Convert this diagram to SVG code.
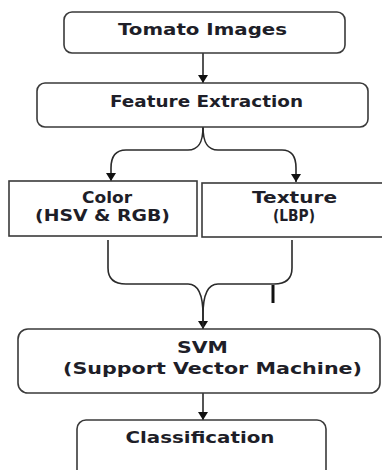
<svg xmlns="http://www.w3.org/2000/svg" width="382" height="470" viewBox="0 0 382 470">
<style>
.box{fill:#fff;stroke:#3a3a3a;stroke-width:1.6}
.t{font-family:"DejaVu Sans","Open Sans",sans-serif;font-weight:700;font-size:15px;fill:#1e1e28;text-anchor:middle}
.c{fill:none;stroke:#2a2a2a;stroke-width:1.6}
</style>
<defs>
<marker id="ah" viewBox="0 0 8 10" markerWidth="8" markerHeight="10" refX="8" refY="5" orient="auto" markerUnits="userSpaceOnUse">
<path d="M0,0 L8,5 L0,10 z" fill="#111"/>
</marker>
</defs>
<rect width="382" height="470" fill="#fff"/>
<g id="connectors">
<path class="c" d="M203,53 L203,83" marker-end="url(#ah)"/>
<path class="c" d="M203,127 C203,142 199,150 188,150 L126,150 C116,150 111,156 111,168 L111,181" marker-end="url(#ah)"/>
<path class="c" d="M203,127 C203,142 207,150 218,150 L282,150 C292,150 296,156 296,168 L296,182" marker-end="url(#ah)"/>
<path class="c" d="M108,240 L108,268 C108,279 114,284 126,284 L188,284 C198,284 203,295 203,315 L203,329" marker-end="url(#ah)"/>
<path class="c" d="M292,240 L292,268 C292,279 286,284 274,284 L218,284 C208,284 203,295 203,315 L203,329"/>
<line x1="273" y1="285" x2="273" y2="303" stroke="#111" stroke-width="3"/>
<path class="c" d="M203,393 L203,420" marker-end="url(#ah)"/>
</g>
<g id="tomato">
<rect class="box" x="64" y="12" width="281" height="41" rx="8"/>
<g transform="translate(202.5,0) scale(1.3,1)"><text class="t" x="0" y="35" textLength="130" lengthAdjust="spacingAndGlyphs">Tomato Images</text></g>
</g>
<g id="feature">
<rect class="box" x="37" y="83" width="331" height="44" rx="8"/>
<g transform="translate(206.5,0) scale(1.3,1)"><text class="t" x="0" y="107" textLength="148.5" lengthAdjust="spacingAndGlyphs">Feature Extraction</text></g>
</g>
<g id="color">
<rect class="box" x="9" y="181" width="188" height="55"/>
<g transform="translate(107,0) scale(1.3,1)"><text class="t" x="0" y="203" textLength="38.5" lengthAdjust="spacingAndGlyphs">Color</text></g>
<g transform="translate(102.5,0) scale(1.3,1)"><text class="t" x="0" y="221" textLength="103.8" lengthAdjust="spacingAndGlyphs">(HSV &amp; RGB)</text></g>
</g>
<g id="texture">
<rect class="box" x="202" y="183" width="190" height="54"/>
<g transform="translate(294.5,0) scale(1.3,1)"><text class="t" x="0" y="203" textLength="65.4" lengthAdjust="spacingAndGlyphs">Texture</text></g>
<g transform="translate(294,0) scale(1.3,1)"><text class="t" x="0" y="221" textLength="32.3" lengthAdjust="spacingAndGlyphs">(LBP)</text></g>
</g>
<g id="svm">
<rect class="box" x="18" y="329" width="362" height="64" rx="10"/>
<g transform="translate(202.5,0) scale(1.3,1)"><text class="t" x="0" y="353" textLength="39.2" lengthAdjust="spacingAndGlyphs">SVM</text></g>
<g transform="translate(212.5,0) scale(1.3,1)"><text class="t" x="0" y="374" textLength="230" lengthAdjust="spacingAndGlyphs">(Support Vector Machine)</text></g>
</g>
<g id="classification">
<rect class="box" x="77" y="420" width="249" height="60" rx="9"/>
<g transform="translate(200,0) scale(1.3,1)"><text class="t" x="0" y="443" textLength="114.6" lengthAdjust="spacingAndGlyphs">Classification</text></g>
</g>
</svg>
